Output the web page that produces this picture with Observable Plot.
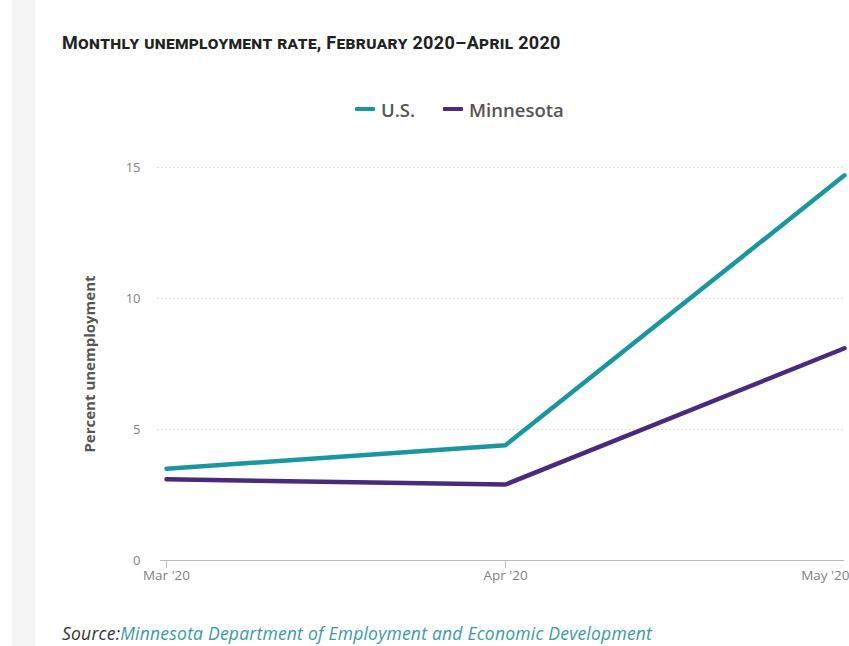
<!DOCTYPE html>
<html>
<head>
<meta charset="utf-8">
<script src="https://cdn.jsdelivr.net/npm/d3@7"></script>
<script src="https://cdn.jsdelivr.net/npm/@observablehq/plot@0.6"></script>
<style>
  html, body { margin: 0; padding: 0; background: #fff; }
  #page { position: relative; width: 849px; height: 646px; overflow: hidden; background: #fff; }
  #strip { position: absolute; left: 12px; top: 0; width: 23px; height: 646px; background: #f5f5f5; }
  #title { position: absolute; left: 62px; top: 32px; font-family: "Roboto", sans-serif; font-weight: bold; font-variant: small-caps; font-size: 18px; color: #222; white-space: nowrap; letter-spacing: 0.3px; }
  #legend { position: absolute; left: 355px; top: 91px; font-family: "Open Sans", sans-serif; font-weight: 600; font-size: 18.5px; color: #555; white-space: nowrap; }
  #legend span.item { display: inline-flex; align-items: center; margin-right: 28px; }
  #legend span.sw { display: inline-block; width: 20px; height: 4px; border-radius: 1px; margin-right: 6px; }
  #chart { position: absolute; left: 0; top: 140px; }
  #source { position: absolute; left: 62px; top: 621px; font-family: "Open Sans", sans-serif; font-style: italic; font-size: 17.5px; color: #333; white-space: nowrap; letter-spacing: 0.22px; }
  #source a { color: #3a9aa3; text-decoration: none; }
</style>
</head>
<body>
<div id="page">
  <div id="strip"></div>
  <div id="title">Monthly unemployment rate, February 2020–April 2020</div>
  <div id="legend"></div>
  <div id="chart"></div>
  <div id="source">Source:<a>Minnesota Department of Employment and Economic Development</a></div>
</div>
<script>
const months = ["Mar '20", "Apr '20", "May '20"];
const usValues = [3.5, 4.4, 14.7];
const mnValues = [3.1, 2.9, 8.1];
const seriesNames = ["U.S.", "Minnesota"];
const seriesColors = ["#1a96a0", "#4a2a7a"];
const yTicks = [0, 5, 10, 15];

const data = [];
months.forEach((m, i) => {
  data.push({month: m, value: usValues[i], series: seriesNames[0]});
  data.push({month: m, value: mnValues[i], series: seriesNames[1]});
});

const legend = document.getElementById("legend");
seriesNames.forEach((s, i) => {
  const it = document.createElement("span");
  it.className = "item";
  it.innerHTML = `<span class="sw" style="background:${seriesColors[i]}"></span>${s}`;
  legend.appendChild(it);
});

const xTickStyle = {stroke: "#bbb", fill: "#808080", fontSize: 13.5, tickSize: 8, tickPadding: 2};

const chart = Plot.plot({
  width: 849,
  height: 460,
  marginLeft: 157,
  marginRight: 5,
  marginTop: 27,
  marginBottom: 40,
  style: {fontFamily: "Open Sans, sans-serif", fontSize: "12px", color: "#777", background: "transparent"},
  x: {type: "point", domain: months, padding: 0, insetLeft: 8, label: null},
  y: {domain: [0, 15], label: null},
  color: {domain: seriesNames, range: seriesColors},
  marks: [
    Plot.ruleY(yTicks.filter(d => d > 0), {stroke: "#d8d8d8", strokeDasharray: "1.5,2.5", strokeWidth: 1}),
    Plot.ruleY([0], {stroke: "#bbb", strokeWidth: 1, insetLeft: 3}),
    Plot.axisY({ticks: yTicks, tickSize: 0, tickPadding: 17, fill: "#808080", fontSize: 13}),
    Plot.axisX({...xTickStyle, ticks: months.slice(0, 2)}),
    Plot.axisX({...xTickStyle, ticks: months.slice(2), textAnchor: "end", dx: 5}),
    Plot.line(data, {x: "month", y: "value", z: "series", stroke: "series", strokeWidth: 4.5, strokeLinecap: "round", strokeLinejoin: "round"}),
    Plot.text(["Percent unemployment"], {frameAnchor: "left", dx: -67, rotate: -90, textAnchor: "middle", fontWeight: "bold", fontSize: 15, fill: "#555", text: d => d})
  ]
});
document.getElementById("chart").appendChild(chart);
</script>
</body>
</html>
